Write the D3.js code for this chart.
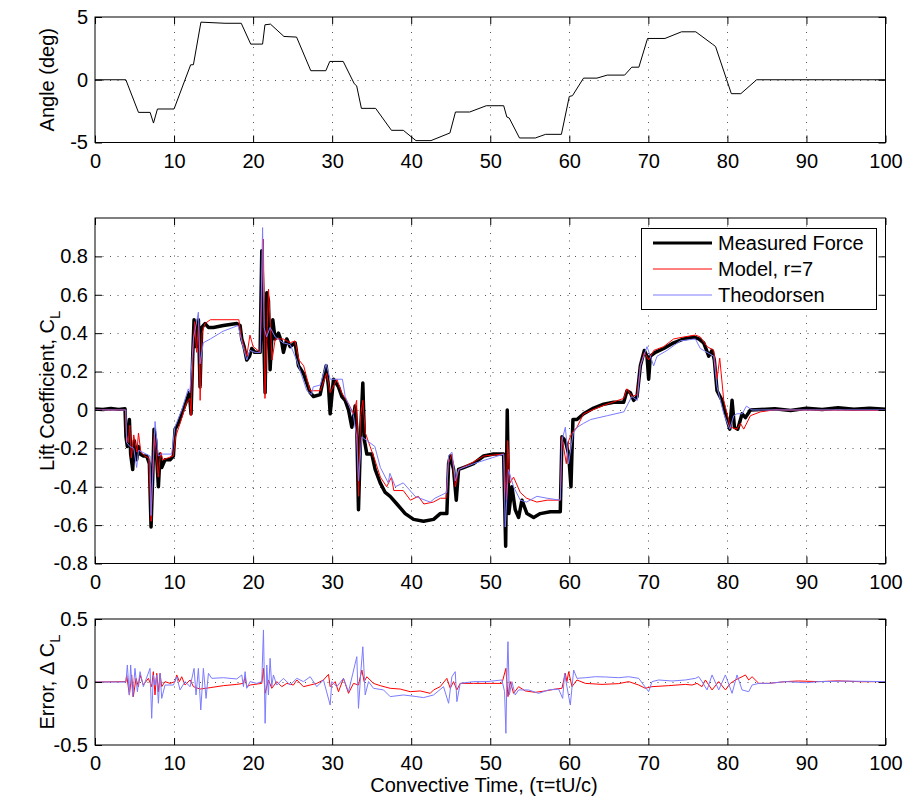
<!DOCTYPE html>
<html>
<head>
<meta charset="utf-8">
<script src="https://cdn.jsdelivr.net/npm/d3@7"></script>
<style>
  body { margin: 0; background: #fff; }
  svg { font-family: "Liberation Sans", Arial, Helvetica, sans-serif; }
</style>
</head>
<body>
<svg id="chart" width="905" height="797"></svg>
<script>
// tick values
const xTicks = [0, 10, 20, 30, 40, 50, 60, 70, 80, 90, 100];
const angleTicks = [-5, 0, 5];
const clTicks = [-0.8, -0.6, -0.4, -0.2, 0, 0.2, 0.4, 0.6, 0.8];
const errTicks = [-0.5, 0, 0.5];

// pitch angle (deg) vs convective time
const angleData = [[0,0],[3.9,0],[5.5,-2.6],[6.97,-2.6],[7.4,-3.45],[7.9,-2.33],[10,-2.33],[12.1,1.19],[12.45,1.2],[13.4,4.59],[16.45,4.5],[18.5,4.5],[19.7,2.84],[21.2,2.84],[21.5,4.38],[22.2,4.43],[23.9,3.45],[25.5,3.4],[27.3,0.72],[29.2,0.72],[29.7,1.46],[31.4,1.46],[32.8,-0.32],[33.1,-0.48],[33.7,-2.28],[35.5,-2.28],[37.5,-4.03],[39,-4.03],[40.6,-4.85],[42.5,-4.85],[44.9,-4.24],[45.6,-2.57],[47.4,-2.57],[49.5,-2.07],[51.7,-2.07],[52.1,-2.97],[52.4,-3.05],[53.7,-4.64],[55.7,-4.64],[57,-4.35],[59,-4.35],[60,-1.33],[60.4,-1.27],[61.8,0.13],[63.5,0.13],[64.8,0.37],[67,0.37],[67.9,1],[68.8,1],[69.9,3.29],[72.1,3.29],[74.2,3.82],[76,3.82],[78.1,2.84],[78.5,2.65],[80.5,-1.11],[81.7,-1.11],[83.7,0],[100,0]];

// lift coefficient: measured
const measuredCL = [[0,0.005],[1,0.002],[2,0.007],[3,0.003],[3.8,0.006],[3.92,-0.14],[4.09,-0.19],[4.35,-0.05],[4.51,-0.23],[4.77,-0.31],[4.98,-0.16],[5.27,-0.26],[5.49,-0.19],[5.7,-0.23],[6.12,-0.24],[6.54,-0.24],[6.88,-0.28],[7.09,-0.61],[7.3,-0.35],[7.47,-0.1],[7.68,-0.16],[8.02,-0.4],[8.23,-0.23],[8.44,-0.3],[8.86,-0.26],[9.49,-0.26],[9.92,-0.24],[10.13,-0.1],[10.55,-0.07],[10.97,-0.02],[11.6,0.05],[11.94,0.09],[12.15,-0.02],[12.36,0.28],[12.53,0.47],[12.78,0.33],[13.08,0.47],[13.29,0.12],[13.5,0.43],[13.92,0.45],[14.35,0.43],[14.98,0.43],[16.24,0.44],[17.93,0.45],[18.35,0.44],[18.57,0.37],[18.86,0.33],[19.2,0.26],[19.54,0.28],[19.83,0.32],[20.25,0.3],[20.89,0.3],[21.1,0.83],[21.52,0.09],[21.73,0.61],[21.94,0.57],[22.15,0.21],[22.49,0.47],[22.78,0.37],[23.21,0.4],[23.63,0.35],[23.84,0.3],[24.26,0.37],[24.68,0.33],[25.32,0.35],[25.74,0.23],[26.37,0.19],[27.22,0.09],[27.64,0.07],[28.48,0.08],[29.24,0.23],[29.54,0.12],[29.75,-0.02],[30.17,0.16],[30.8,0.12],[31.22,0.07],[31.65,0.05],[32.07,0],[32.49,-0.09],[32.91,0.02],[33.12,-0.1],[33.33,-0.52],[33.63,-0.09],[33.88,0.14],[34.09,-0.16],[34.39,-0.23],[35.02,-0.23],[35.44,-0.31],[36.08,-0.38],[36.71,-0.43],[37.34,-0.45],[38.19,-0.49],[39.24,-0.54],[40.3,-0.57],[41.56,-0.58],[42.83,-0.57],[43.67,-0.54],[44.51,-0.54],[44.73,-0.28],[44.94,-0.24],[45.36,-0.31],[45.7,-0.47],[45.99,-0.31],[46.62,-0.3],[47.89,-0.28],[49.16,-0.24],[50.42,-0.23],[51.69,-0.23],[51.95,-0.71],[52.15,0],[52.35,-0.54],[52.74,-0.4],[53.16,-0.52],[53.59,-0.56],[54.01,-0.47],[54.64,-0.54],[55.49,-0.56],[56.33,-0.54],[57.59,-0.53],[58.86,-0.53],[59.07,-0.14],[59.49,-0.16],[59.92,-0.23],[60.21,-0.4],[60.46,-0.05],[60.97,-0.05],[61.81,-0.02],[63.08,0.01],[64.35,0.03],[65.61,0.04],[66.88,0.04],[67.3,0.1],[67.72,0.09],[68.14,0.05],[68.57,0.07],[68.99,0.23],[69.49,0.31],[69.83,0.28],[70.04,0.16],[70.25,0.28],[70.89,0.3],[71.94,0.32],[73.21,0.35],[74.47,0.37],[75.74,0.38],[76.37,0.37],[77,0.35],[77.64,0.28],[78.06,0.31],[78.35,0.26],[78.69,0.1],[79.32,0.05],[79.96,-0.05],[80.3,-0.1],[80.59,0.05],[80.89,-0.09],[81.31,-0.1],[81.86,-0.02],[82.28,-0.04],[82.91,0],[84.18,0.002],[86,0.006],[88,-0.003],[90,0.009],[92,0.002],[94,0.011],[96,0.004],[98,0.009],[100,0.004]];

// lift coefficient: model, r=7
const modelCL = [[0,0],[3.85,0],[3.95,-0.12],[4.2,-0.17],[4.4,-0.08],[4.6,-0.25],[4.9,-0.13],[5.3,-0.22],[5.5,-0.12],[5.8,-0.22],[6.3,-0.24],[6.8,-0.25],[7.1,-0.58],[7.3,-0.3],[7.5,-0.12],[7.7,-0.2],[8,-0.35],[8.3,-0.22],[8.6,-0.26],[9.2,-0.25],[9.9,-0.24],[10.2,-0.14],[10.6,-0.09],[11,-0.04],[11.6,0.04],[12,0.06],[12.15,-0.03],[12.4,0.3],[12.6,0.46],[12.85,0.3],[13.1,0.45],[13.3,0.05],[13.55,0.4],[13.9,0.45],[14.6,0.47],[16.2,0.47],[18.2,0.47],[18.5,0.38],[19.2,0.28],[19.6,0.39],[20,0.33],[20.9,0.3],[21.3,0.89],[21.5,0.06],[21.95,0.63],[22.4,0.26],[22.8,0.37],[23.8,0.37],[24.7,0.35],[25.3,0.36],[25.8,0.26],[26.4,0.23],[27.2,0.1],[27.6,0.1],[28.5,0.1],[29.3,0.19],[29.75,0.09],[30.6,0.16],[31.2,0.09],[32.1,0.03],[32.7,-0.02],[33.1,0.05],[33.33,-0.45],[33.6,-0.03],[33.88,0.05],[34.2,-0.12],[34.8,-0.19],[35.4,-0.26],[36.1,-0.35],[36.9,-0.4],[37.5,-0.35],[37.8,-0.42],[39,-0.42],[39.9,-0.47],[40.9,-0.45],[41.6,-0.49],[42.8,-0.48],[43.7,-0.46],[44.4,-0.46],[44.7,-0.28],[45.15,-0.23],[45.6,-0.4],[46,-0.31],[47.9,-0.27],[49.2,-0.24],[50.4,-0.235],[51.7,-0.23],[52.05,-0.47],[52.2,-0.16],[52.5,-0.38],[52.95,-0.35],[53.8,-0.43],[54.6,-0.46],[55.9,-0.48],[57.2,-0.47],[58.86,-0.47],[59.07,-0.14],[59.62,-0.28],[59.92,-0.16],[60.34,-0.12],[60.97,-0.09],[61.81,-0.02],[63.5,0.01],[64.77,0.03],[66.88,0.06],[67.3,0.11],[67.93,0.07],[68.57,0.08],[68.99,0.23],[69.49,0.3],[70.04,0.26],[70.68,0.31],[71.94,0.33],[73.2,0.37],[74.47,0.38],[75.95,0.39],[76.58,0.38],[77.43,0.33],[78.27,0.31],[78.69,0.16],[79.03,0.27],[79.54,0.05],[80.38,-0.09],[81.22,-0.1],[81.65,-0.07],[82.07,-0.1],[82.91,-0.03],[84.18,-0.01],[85.86,0],[100,-0.003]];

// lift coefficient: Theodorsen
const theodorsenCL = [[0,0],[3.9,0],[4,-0.17],[4.4,-0.19],[4.9,-0.2],[5.27,-0.3],[5.5,-0.21],[6.96,-0.24],[7.09,-0.55],[7.6,-0.06],[8,-0.24],[8.44,-0.23],[9.7,-0.23],[10.1,-0.09],[10.97,0],[11.8,0.11],[12,0.09],[12.45,0.37],[13.08,0.51],[13.29,0.24],[13.7,0.35],[14.6,0.37],[16.2,0.41],[18.1,0.44],[18.6,0.35],[19.2,0.26],[19.6,0.31],[20.25,0.3],[20.9,0.3],[21.2,0.95],[21.4,0.43],[21.7,0.38],[22.15,0.43],[22.8,0.38],[23.8,0.35],[24.7,0.34],[25.5,0.26],[26.8,0.1],[27.4,0.08],[27.6,0.12],[28.5,0.13],[29.24,0.24],[29.75,0.16],[31.3,0.16],[31.65,0.07],[32.7,-0.03],[33.1,-0.14],[33.33,-0.37],[33.75,-0.14],[35.4,-0.19],[36.1,-0.3],[37.1,-0.38],[37.3,-0.33],[38,-0.4],[39,-0.38],[40.5,-0.45],[41.1,-0.46],[42.4,-0.48],[43,-0.46],[44.5,-0.43],[44.73,-0.24],[45.15,-0.22],[45.6,-0.37],[46,-0.31],[47.9,-0.28],[51.7,-0.23],[51.9,-0.61],[52.3,-0.31],[52.95,-0.4],[53.8,-0.47],[54.6,-0.48],[55.9,-0.45],[57.2,-0.46],[58.86,-0.47],[59.07,-0.16],[59.5,-0.09],[59.9,-0.28],[60.5,-0.12],[61,-0.09],[61.8,-0.07],[62.7,-0.05],[64.8,-0.03],[66.9,-0.01],[67.9,0.07],[68.6,0.05],[68.99,0.23],[69.83,0.33],[70.67,0.23],[71.1,0.28],[72.36,0.31],[74.05,0.36],[75.95,0.37],[76.58,0.32],[77.43,0.3],[78.27,0.28],[78.69,0.12],[79.54,-0.02],[80.3,-0.1],[80.8,-0.03],[81.2,-0.02],[81.86,-0.02],[82.41,0.02],[83.1,0],[84.2,0],[100,0]];

// error of model (measured - model)
const modelErr = [[0,0],[3.9,0.003],[4.01,0.056],[4.35,-0.104],[4.64,0.056],[4.85,-0.116],[5.19,0.029],[5.49,-0.037],[5.7,0.056],[6.12,-0.024],[6.75,0.029],[7.17,-0.037],[7.38,0.082],[7.59,-0.103],[7.81,0.069],[8.02,-0.077],[8.23,0.069],[8.44,-0.037],[8.86,0.003],[9.49,-0.011],[10.13,0.003],[10.34,0.056],[10.68,0.003],[10.97,0.042],[11.39,-0.024],[12.03,0.016],[12.45,-0.037],[13.29,-0.056],[14.56,-0.045],[16.24,-0.029],[17.93,-0.019],[18.78,-0.011],[18.99,0.042],[19.2,-0.037],[19.62,-0.024],[21.1,-0.011],[21.31,0.108],[21.52,-0.09],[21.94,0.016],[22.36,-0.05],[23,0.003],[23.63,-0.037],[24.26,-0.011],[25.1,-0.024],[25.53,0.016],[26.37,-0.037],[27.22,-0.024],[28.06,-0.011],[28.9,0.016],[29.54,0.061],[29.75,-0.037],[30.38,0.003],[30.8,-0.077],[31.43,0.029],[32.07,-0.09],[32.7,-0.011],[33.33,-0.024],[33.76,0.095],[34.05,0.003],[34.39,0.042],[35.23,-0.011],[36.08,-0.029],[37.34,-0.05],[38.61,-0.056],[39.87,-0.077],[41.14,-0.071],[42.41,-0.09],[42.83,-0.063],[43.67,-0.037],[44.51,0.029],[44.94,-0.05],[45.36,0.003],[45.78,-0.063],[46.2,-0.011],[47.89,-0.011],[49.58,-0.011],[51.48,-0.011],[51.98,0.108],[52.24,-0.116],[52.53,0.003],[52.95,-0.09],[53.59,-0.037],[54.43,-0.071],[55.7,-0.082],[56.96,-0.071],[58.23,-0.056],[59.07,-0.05],[59.49,0.069],[59.7,0.003],[59.92,0.082],[60.34,-0.037],[60.97,0.016],[62.03,-0.011],[64.14,-0.019],[66.24,-0.013],[67.51,0.003],[68.78,-0.024],[69.62,-0.05],[70.46,-0.037],[72.57,-0.029],[74.68,-0.019],[75.53,-0.024],[76.16,-0.011],[76.79,-0.037],[77.22,0.016],[78.06,-0.063],[78.9,0.003],[79.75,-0.063],[80.38,-0.011],[81.01,0.016],[81.86,0.042],[82.28,0.056],[82.7,0.016],[83.12,0.042],[83.97,-0.011],[85.23,-0.011],[87.34,0.003],[89,0.008],[91.56,0.003],[94,0.009],[97,0.002],[100,0.003]];

// error of Theodorsen (measured - Theodorsen)
const theodorsenErr = [[0,0],[3.92,0],[4.09,0.135],[4.35,-0.103],[4.51,0.135],[4.77,-0.116],[5.06,0.108],[5.36,-0.077],[5.7,0.082],[6.12,-0.037],[6.96,0.108],[7.17,-0.288],[7.38,0.056],[7.59,-0.024],[7.81,0.056],[8.02,-0.169],[8.23,0.069],[8.44,-0.13],[8.86,-0.024],[9.92,-0.024],[10.34,0.042],[10.76,-0.063],[11.39,0.003],[12.03,-0.037],[12.53,0.108],[12.78,-0.103],[13.08,0.108],[13.38,-0.222],[13.71,0.108],[14.05,-0.13],[14.35,0.069],[14.77,0.029],[16.24,0.034],[17.93,0.024],[18.57,0.056],[18.78,-0.037],[18.99,0.082],[19.2,-0.05],[19.62,0.003],[20.46,-0.011],[21.1,0.003],[21.31,0.413],[21.52,-0.328],[21.73,0.135],[21.94,-0.103],[22.15,0.188],[22.36,-0.037],[22.57,0.056],[23,-0.024],[23.84,0.029],[24.68,-0.024],[25.53,0.029],[26.37,0.003],[27.22,0.042],[28.06,-0.037],[28.9,0.016],[29.75,-0.183],[29.96,0.003],[30.59,-0.037],[31.43,0.029],[32.07,-0.077],[33.12,0.201],[33.33,-0.209],[33.63,0.082],[33.88,0.28],[34.18,-0.103],[34.6,0.003],[35.23,-0.05],[36.5,-0.063],[37.34,-0.116],[39.03,-0.103],[40.72,-0.116],[41.56,-0.124],[42.83,-0.103],[44.09,-0.037],[44.73,-0.169],[45.15,0.042],[45.57,0.082],[45.78,-0.156],[46.2,-0.011],[47.89,0.003],[49.58,0.003],[51.48,0.016],[51.81,-0.077],[51.98,-0.407],[52.11,0.056],[52.24,0.32],[52.41,-0.103],[52.74,0.003],[53.16,-0.103],[53.59,-0.063],[54.85,-0.063],[56.12,-0.09],[57.38,-0.063],[58.65,-0.056],[59.16,-0.13],[59.41,0.069],[59.7,-0.037],[60.13,-0.183],[60.55,0.095],[60.97,0.029],[62.03,0.034],[63.29,0.042],[64.56,0.04],[66.24,0.034],[67.51,0.042],[68.78,0.029],[70.04,-0.077],[70.46,0.003],[71.31,0.016],[72.99,0.008],[74.68,0.016],[75.95,0.029],[76.37,0.042],[76.79,0.003],[77.43,-0.063],[78.06,0.056],[78.9,-0.063],[79.75,0.056],[80.59,-0.09],[81.22,0.056],[81.86,-0.063],[82.7,-0.077],[83.12,-0.024],[83.97,-0.011],[85.23,-0.011],[87.34,0.003],[90,-0.006],[91.56,0.003],[95,0.007],[100,0.003]];

const legendNames = ["Measured Force", "Model, r=7", "Theodorsen"];
const colors = { measured: "#000000", model: "#ff0000", theo: "#7b7bff" };

const X0 = 95, X1 = 885.5;
const svg = d3.select("#chart");
const x = d3.scaleLinear().domain([0, 100]).range([X0, X1]);

function drawPanel(cfg) {
  const y = d3.scaleLinear().domain(cfg.domain).range([cfg.bottom, cfg.top]);
  const g = svg.append("g");

  const clipId = "clip-" + cfg.name;
  svg.append("clipPath").attr("id", clipId)
    .append("rect")
    .attr("x", X0).attr("y", cfg.top)
    .attr("width", X1 - X0).attr("height", cfg.bottom - cfg.top);

  // dotted grid
  const grid = g.append("g")
    .attr("stroke", "#000")
    .attr("stroke-width", 0.9)
    .attr("stroke-dasharray", "1,6.5")
    .attr("opacity", 0.75);
  grid.selectAll(".vg")
    .data(xTicks.filter((d) => d > 0 && d < 100))
    .enter()
    .append("line")
    .attr("x1", (d) => Math.round(x(d)) + 0.5)
    .attr("x2", (d) => Math.round(x(d)) + 0.5)
    .attr("y1", cfg.top)
    .attr("y2", cfg.bottom);
  grid.selectAll(".hg")
    .data(cfg.ticks.filter((d) => d > cfg.domain[0] && d < cfg.domain[1]))
    .enter()
    .append("line")
    .attr("x1", X0)
    .attr("x2", X1)
    .attr("y1", (d) => Math.round(y(d)) + 0.5)
    .attr("y2", (d) => Math.round(y(d)) + 0.5);

  // data lines
  const line = d3.line().x((d) => x(d[0])).y((d) => y(d[1]));
  const lines = g.append("g").attr("clip-path", `url(#${clipId})`);
  cfg.series.forEach((s) => {
    lines.append("path")
      .datum(s.data)
      .attr("fill", "none")
      .attr("stroke", s.color)
      .attr("stroke-width", s.width)
      .attr("stroke-linejoin", "round")
      .attr("d", line);
  });

  // axes with inward ticks
  const fmt = (d) => String(d);
  const tick = 7;
  g.append("g")
    .attr("transform", `translate(0,${cfg.bottom})`)
    .call(d3.axisBottom(x).tickValues(xTicks).tickFormat(fmt)
      .tickSizeInner(-tick).tickSizeOuter(0).tickPadding(11));
  g.append("g")
    .attr("transform", `translate(0,${cfg.top})`)
    .call(d3.axisTop(x).tickValues(xTicks).tickFormat("")
      .tickSizeInner(-tick).tickSizeOuter(0));
  g.append("g")
    .attr("transform", `translate(${X0},0)`)
    .call(d3.axisLeft(y).tickValues(cfg.ticks).tickFormat(fmt)
      .tickSizeInner(-tick).tickSizeOuter(0).tickPadding(7));
  g.append("g")
    .attr("transform", `translate(${X1},0)`)
    .call(d3.axisRight(y).tickValues(cfg.ticks).tickFormat("")
      .tickSizeInner(-tick).tickSizeOuter(0));
  g.selectAll(".domain").remove();
  g.selectAll(".tick line").attr("stroke", "#000");
  g.selectAll(".tick text")
    .attr("fill", "#000")
    .style("font-size", "20px");

  // axes box
  g.append("rect")
    .attr("x", X0).attr("y", cfg.top)
    .attr("width", X1 - X0).attr("height", cfg.bottom - cfg.top)
    .attr("fill", "none")
    .attr("stroke", "#000")
    .attr("stroke-width", 1);

  // y label
  const lab = g.append("text")
    .attr("transform", `translate(54,${(cfg.top + cfg.bottom) / 2}) rotate(-90)`)
    .attr("text-anchor", "middle")
    .style("font-size", "20px")
    .text(cfg.label);
  if (cfg.sub) {
    lab.append("tspan").attr("dy", 6).style("font-size", "15px").text(cfg.sub);
  }
  return { g, y };
}

drawPanel({
  name: "angle", top: 17, bottom: 142.5, domain: [-5, 5], ticks: angleTicks,
  label: "Angle (deg)",
  series: [{ data: angleData, color: "#000", width: 1 }]
});

const mid = drawPanel({
  name: "cl", top: 218, bottom: 563.5, domain: [-0.8, 1], ticks: clTicks,
  label: "Lift Coefficient, C", sub: "L",
  series: [
    { data: measuredCL, color: colors.measured, width: 3.5 },
    { data: modelCL, color: colors.model, width: 1 },
    { data: theodorsenCL, color: colors.theo, width: 1 }
  ]
});

drawPanel({
  name: "err", top: 619, bottom: 745, domain: [-0.5, 0.5], ticks: errTicks,
  label: "Error, \u0394 C", sub: "L",
  series: [
    { data: modelErr, color: colors.model, width: 1 },
    { data: theodorsenErr, color: colors.theo, width: 1 }
  ]
});

// x label
svg.append("text")
  .attr("x", 484)
  .attr("y", 792)
  .attr("text-anchor", "middle")
  .style("font-size", "20px")
  .text("Convective Time, (\u03c4=tU/c)");

// legend
const legend = mid.g.append("g");
legend.append("rect")
  .attr("x", 641.5).attr("y", 228.5)
  .attr("width", 235).attr("height", 81)
  .attr("fill", "#fff")
  .attr("stroke", "#000")
  .attr("stroke-width", 1);
const legendStyles = [
  { color: colors.measured, width: 3 },
  { color: colors.model, width: 1 },
  { color: colors.theo, width: 1 }
];
legendNames.forEach((name, i) => {
  const yy = 243 + i * 26;
  legend.append("line")
    .attr("x1", 653).attr("x2", 712)
    .attr("y1", yy).attr("y2", yy)
    .attr("stroke", legendStyles[i].color)
    .attr("stroke-width", legendStyles[i].width);
  legend.append("text")
    .attr("x", 718).attr("y", yy)
    .attr("dy", "0.36em")
    .style("font-size", "20px")
    .text(name);
});
</script>
</body>
</html>
